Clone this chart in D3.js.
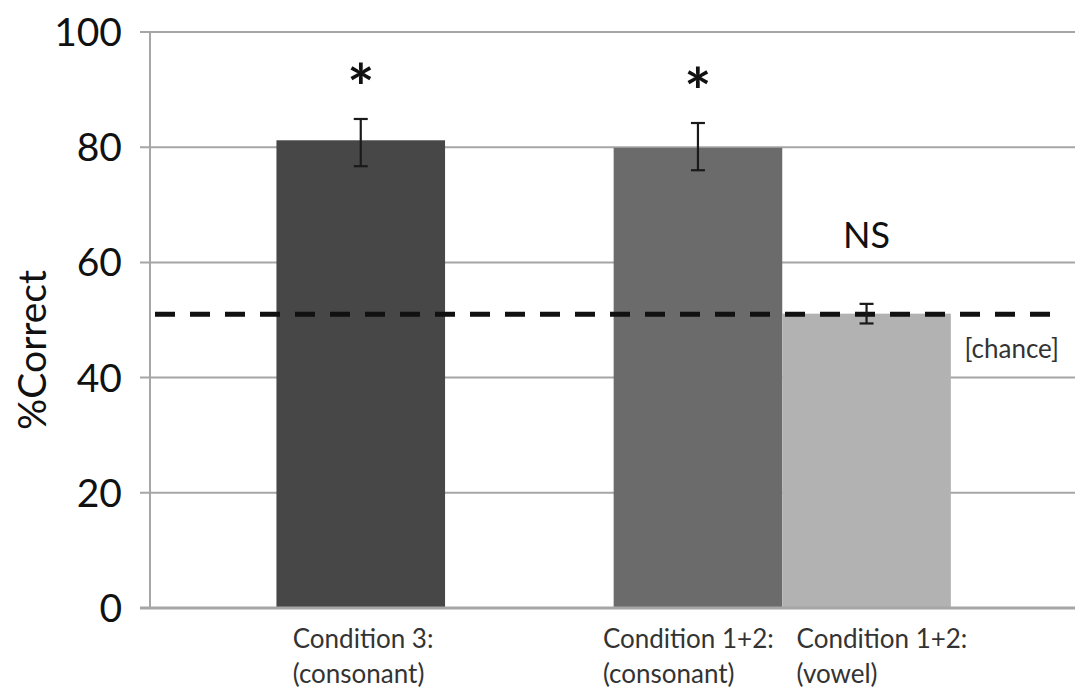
<!DOCTYPE html>
<html>
<head>
<meta charset="utf-8">
<script src="https://cdn.jsdelivr.net/npm/d3@7"></script>
<style>
  body { margin: 0; background: #fff; }
  svg { display: block; font-family: Lato, "Open Sans", sans-serif; }
</style>
</head>
<body>
<svg id="chart" width="1075" height="694"></svg>
<script>
// data
var groups = ["Condition 3:", "Condition 1+2:"];
var barGroup = [0, 1, 1];
var barNames = ["Condition 3:\n(consonant)", "Condition 1+2:\n(consonant)", "Condition 1+2:\n(vowel)"];
var means = [81.2, 79.9, 51.1];
var errLow = [76.7, 76.0, 49.4];
var errHigh = [84.9, 84.2, 52.8];
var marks = ["*", "*", "NS"];
var chanceLevel = 51.0;
var yTicks = [0, 20, 40, 60, 80, 100];

var colors = ["#474747", "#6b6b6b", "#b2b2b2"];
var labelShift = [-68, -95, -70];

var svg = d3.select("#chart"),
    W = +svg.attr("width"), H = +svg.attr("height"),
    margin = {top: 32, right: 0, bottom: 86, left: 150},
    g = svg.append("g");

var y = d3.scaleLinear().domain([0, 100]).range([H - margin.bottom, margin.top]);

var x0 = d3.scaleBand().domain(groups).range([margin.left, 993]);
var barW = x0.bandwidth() * 0.4;

function barX(i) {
    var grp = groups[barGroup[i]];
    var members = d3.range(means.length).filter(function(j) { return barGroup[j] === barGroup[i]; });
    var start = x0(grp) + x0.bandwidth() / 2 - members.length * barW / 2;
    var x1 = d3.scaleBand().domain(members).range([start, start + members.length * barW]);
    return x1(i);
}

// gridlines
g.append("g").selectAll("line")
    .data(yTicks)
    .enter().append("line")
    .attr("x1", margin.left - 10)
    .attr("x2", W)
    .attr("y1", function(d) { return y(d); })
    .attr("y2", function(d) { return y(d); })
    .attr("stroke", "#a6a6a6")
    .attr("stroke-width", 2);

// y axis line
g.append("line")
    .attr("x1", margin.left).attr("x2", margin.left)
    .attr("y1", y(100)).attr("y2", y(0))
    .attr("stroke", "#a6a6a6").attr("stroke-width", 2);

g.append("g").selectAll("text")
    .data(yTicks)
    .enter().append("text")
    .attr("x", 122)
    .attr("y", function(d) { return y(d); })
    .attr("dy", "0.36em")
    .attr("text-anchor", "end")
    .style("font-size", "39px")
    .attr("fill", "#111")
    .text(function(d) { return d; });

svg.append("text")
    .attr("transform", "translate(46," + 350 + ") rotate(-90)")
    .attr("text-anchor", "middle")
    .style("font-size", "39px")
    .attr("fill", "#111")
    .text("%Correct");

// bars
g.append("g").selectAll("rect")
    .data(means)
    .enter().append("rect")
    .attr("x", function(d, i) { return barX(i); })
    .attr("width", barW)
    .attr("y", function(d) { return y(d); })
    .attr("height", function(d) { return y(0) - y(d); })
    .attr("fill", function(d, i) { return colors[i]; });

// x axis baseline
g.append("line")
    .attr("x1", margin.left - 10).attr("x2", W)
    .attr("y1", y(0)).attr("y2", y(0))
    .attr("stroke", "#a6a6a6").attr("stroke-width", 3);

// chance line
g.append("line")
    .attr("x1", 155).attr("x2", 1062)
    .attr("y1", y(chanceLevel)).attr("y2", y(chanceLevel))
    .attr("stroke", "#111")
    .attr("stroke-width", 5)
    .attr("stroke-dasharray", "20,15");

g.append("text")
    .attr("x", 1059)
    .attr("y", y(chanceLevel) + 44)
    .attr("text-anchor", "end")
    .style("font-size", "26px")
    .attr("fill", "#333")
    .text("[chance]");

// error bars
var err = g.append("g").attr("stroke", "#1a1a1a").attr("stroke-width", 2.2);
means.forEach(function(d, i) {
    var cx = barX(i) + barW / 2;
    err.append("line").attr("x1", cx).attr("x2", cx).attr("y1", y(errLow[i])).attr("y2", y(errHigh[i]));
    err.append("line").attr("x1", cx - 7).attr("x2", cx + 7).attr("y1", y(errLow[i])).attr("y2", y(errLow[i]));
    err.append("line").attr("x1", cx - 7).attr("x2", cx + 7).attr("y1", y(errHigh[i])).attr("y2", y(errHigh[i]));
});

// significance marks
g.append("g").selectAll("text")
    .data(marks)
    .enter().append("text")
    .attr("x", function(d, i) { return barX(i) + barW / 2; })
    .attr("y", function(d, i) { return d === "*" ? y(errHigh[i]) - 8 : y(errHigh[i]) - 56; })
    .attr("text-anchor", "middle")
    .style("font-size", function(d) { return d === "*" ? "64px" : "36px"; })
    .style("font-weight", function(d) { return d === "*" ? "bold" : "normal"; })
    .attr("fill", "#111")
    .text(function(d) { return d; });

// category labels: left-aligned two-line blocks under each bar
g.append("g").selectAll("text")
    .data(barNames)
    .enter().append("text")
    .style("font-size", "26px")
    .attr("fill", "#333")
    .each(function(d, i) {
        var t = d3.select(this);
        var left = barX(i) + barW / 2 + labelShift[i];
        d.split("\n").forEach(function(s, k) {
            t.append("tspan").attr("x", left).attr("y", y(0) + 40 + k * 35).text(s);
        });
    });
</script>
</body>
</html>
